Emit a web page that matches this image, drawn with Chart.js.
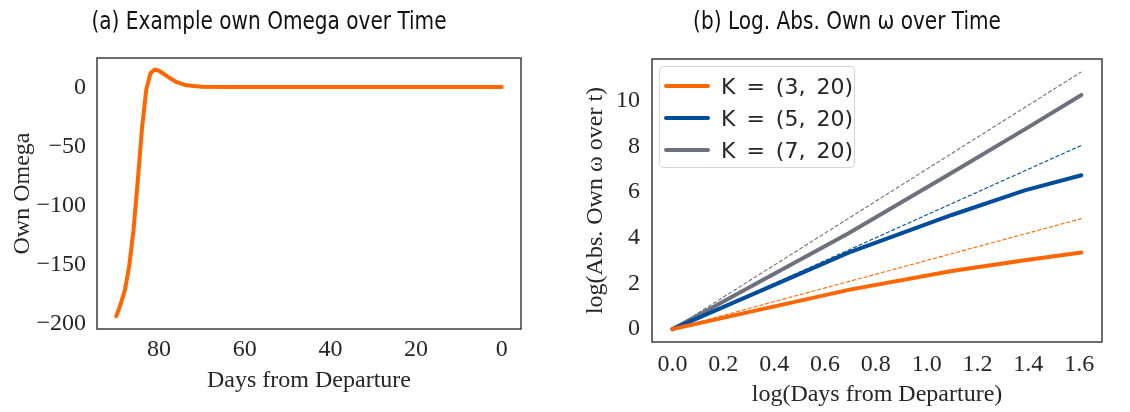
<!DOCTYPE html>
<html>
<head>
<meta charset="utf-8">
<script src="https://cdn.jsdelivr.net/npm/chart.js@4.4.1/dist/chart.umd.min.js"></script>
<style>
    html, body { margin: 0; padding: 0; background: #fff; }
    #wrap { position: relative; width: 1130px; height: 412px; }
    .panel { position: absolute; top: 0; height: 412px; }
    #left { left: 0; width: 560px; }
    #right { left: 560px; width: 570px; }
    .title {
        position: absolute; top: 6px; width: 500px; height: 30px; line-height: 30px;
        text-align: center; white-space: nowrap; color: #111;
        font-family: 'DejaVu Sans Condensed', 'DejaVu Sans', sans-serif;
        font-stretch: condensed; font-size: 24px;
        transform: scaleX(0.93);
    }
    #titleA { left: 19px; }
    #titleB { left: 597px; }
    #legend {
        position: absolute; left: 659px; top: 66px; width: 196px; height: 102px;
        border: 1px solid #d6d6d6; border-radius: 4px; background: rgba(255,255,255,0.85);
        font-family: 'DejaVu Sans', sans-serif; font-size: 22px; color: #262626;
        word-spacing: 4px; box-sizing: border-box; padding-top: 3px;
    }
    #legend .row { display: flex; align-items: center; height: 32px; }
    #legend .swatch { width: 46px; height: 4px; border-radius: 2px; margin: 0 11px 0 4px; }
</style>
</head>
<body>
<div id="wrap">
    <div class="panel" id="left"><canvas id="omegaChart" width="560" height="412"></canvas></div>
    <div class="panel" id="right"><canvas id="logChart" width="570" height="412"></canvas></div>
    <div class="title" id="titleA">(a) Example own Omega over Time</div>
    <div class="title" id="titleB">(b) Log. Abs. Own &omega; over Time</div>
    <div id="legend"></div>
</div>
<script>
// (a) own omega over time
const days = [90, 89, 88, 87, 86, 85, 84, 83, 82, 81, 80, 78, 76, 74, 72, 70, 65, 60, 40, 20, 0];
const ownOmega = [-194, -184, -172, -152, -122, -80, -35, -2, 12, 15, 14, 9, 4.5, 2, 1, 0.5, 0.3, 0.3, 0.3, 0.3, 0.3];
const leftXTicks = [80, 60, 40, 20, 0];
const leftYTicks = [-200, -150, -100, -50, 0];

// (b) log abs own omega, log-log
const logDays = [0, 0.693, 1.099, 1.386, 1.609];
const seriesNames = ['K = (3, 20)', 'K = (5, 20)', 'K = (7, 20)'];
const logOmegaK3 = [0, 1.72, 2.55, 3.02, 3.36];
const logOmegaK5 = [0, 3.35, 5.0, 6.08, 6.74];
const logOmegaK7 = [0, 4.2, 6.85, 8.75, 10.26];
const refX = [0, 1.609];
const refK3 = [0, 4.84];
const refK5 = [0, 8.05];
const refK7 = [0, 11.27];
const rightXTicks = [0, 0.2, 0.4, 0.6, 0.8, 1.0, 1.2, 1.4, 1.6];
const rightYTicks = [0, 2, 4, 6, 8, 10];

const colors = ['#ff6600', '#024d99', '#6c717d'];
const serif = "'Liberation Serif', 'DejaVu Serif', serif";
const textColor = '#262626';

function zip(xs, ys) {
    return xs.map((x, i) => ({ x: x, y: ys[i] }));
}
function minus(v) {
    return String(v).replace('-', '\u2212');
}

// matplotlib style frame round the plot area
const framePlugin = {
    id: 'frame',
    afterDatasetsDraw(chart) {
        const a = chart.chartArea;
        const ctx = chart.ctx;
        ctx.save();
        ctx.strokeStyle = '#3d3d3d';
        ctx.lineWidth = 1.5;
        ctx.strokeRect(a.left, a.top, a.right - a.left, a.bottom - a.top);
        ctx.restore();
    }
};

function axis(opts) {
    return Object.assign({
        type: 'linear',
        grid: { display: false, drawTicks: false },
        border: { display: false },
    }, opts);
}

Chart.defaults.animation = false;
Chart.defaults.color = textColor;

new Chart(document.getElementById('omegaChart'), {
    type: 'line',
    data: {
        datasets: [{
            data: zip(days, ownOmega),
            borderColor: colors[0],
            borderWidth: 4,
            pointRadius: 0,
            borderCapStyle: 'round',
            borderJoinStyle: 'round'
        }]
    },
    options: {
        responsive: false,
        layout: { padding: { left: 0, right: 39, top: 58, bottom: 0 } },
        plugins: {
            legend: { display: false },
            tooltip: { enabled: false }
        },
        scales: {
            x: axis({
                reverse: true,
                min: -4.5, max: 94.5,
                afterBuildTicks: s => { s.ticks = leftXTicks.map(v => ({ value: v })); },
                afterFit: s => { s.height = 83; },
                ticks: { font: { family: serif, size: 24 }, padding: 6, callback: v => minus(v) },
                title: { display: true, text: 'Days from Departure', font: { family: serif, size: 24 }, padding: { top: 0, bottom: 17 } }
            }),
            y: axis({
                min: -204.8, max: 24.8,
                afterBuildTicks: s => { s.ticks = leftYTicks.map(v => ({ value: v })); },
                afterFit: s => { s.width = 97; },
                ticks: { font: { family: serif, size: 24 }, padding: 11, callback: v => minus(v) },
                title: { display: true, text: 'Own Omega', font: { family: serif, size: 24 }, padding: { top: 8, bottom: 0 } }
            })
        }
    },
    plugins: [framePlugin]
});

const solid = [logOmegaK3, logOmegaK5, logOmegaK7];
const refs = [refK3, refK5, refK7];
const logDatasets = [];
solid.forEach((ys, i) => {
    logDatasets.push({
        label: seriesNames[i],
        data: zip(logDays, ys),
        borderColor: colors[i],
        borderWidth: 4,
        pointRadius: 0,
        borderCapStyle: 'round'
    });
});
refs.forEach((ys, i) => {
    logDatasets.push({
        label: seriesNames[i] + ' ref',
        data: zip(refX, ys),
        borderColor: colors[i],
        borderWidth: 1.1,
        borderDash: [4, 2],
        pointRadius: 0
    });
});

new Chart(document.getElementById('logChart'), {
    type: 'line',
    data: { datasets: logDatasets },
    options: {
        responsive: false,
        layout: { padding: { left: 0, right: 28, top: 59, bottom: 0 } },
        plugins: {
            legend: { display: false },
            tooltip: { enabled: false }
        },
        scales: {
            x: axis({
                min: -0.0805, max: 1.69,
                afterBuildTicks: s => { s.ticks = rightXTicks.map(v => ({ value: v })); },
                afterFit: s => { s.height = 70; },
                ticks: { font: { family: serif, size: 24 }, padding: 8, callback: v => Number(v).toFixed(1) },
                title: { display: true, text: 'log(Days from Departure)', font: { family: serif, size: 24 }, padding: { top: 0, bottom: 3 } }
            }),
            y: axis({
                min: -0.5635, max: 11.8335,
                afterBuildTicks: s => { s.ticks = rightYTicks.map(v => ({ value: v })); },
                afterFit: s => { s.width = 92; },
                ticks: { font: { family: serif, size: 24 }, padding: 12, callback: v => String(v) },
                title: { display: true, text: 'log(Abs. Own \u03c9 over t)', font: { family: serif, size: 24 }, padding: { top: 21, bottom: 0 } }
            })
        }
    },
    plugins: [framePlugin]
});

// legend inside the right plot
const legendBox = document.getElementById('legend');
seriesNames.forEach((name, i) => {
    const row = document.createElement('div');
    row.className = 'row';
    const sw = document.createElement('span');
    sw.className = 'swatch';
    sw.style.background = colors[i];
    const label = document.createElement('span');
    label.textContent = name;
    row.appendChild(sw);
    row.appendChild(label);
    legendBox.appendChild(row);
});
</script>
</body>
</html>
